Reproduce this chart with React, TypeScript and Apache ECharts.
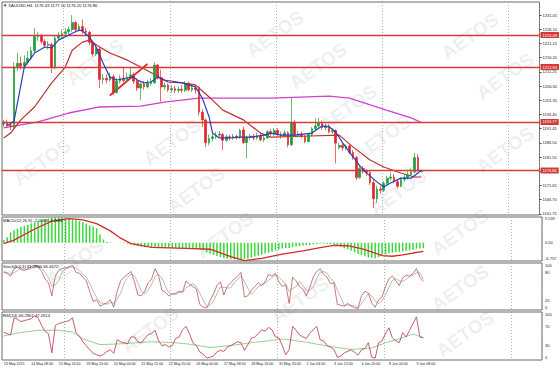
import React, { useEffect, useRef } from "react";
import * as echarts from "echarts";

const N_SLOTS = 157;
const LABEL_STEP = 8;
const dateLabels = ["13 May 2015", "14 May 08:00", "15 May 16:00", "18 May 20:00", "20 May 04:00", "21 May 12:00", "22 May 20:00", "26 May 00:00", "27 May 08:00", "28 May 16:00", "31 May 20:00", "2 Jun 04:00", "3 Jun 12:00", "4 Jun 20:00", "8 Jun 00:00", "9 Jun 08:00"];
const weekStarts = [18, 49, 80, 111, 148];

const priceTicks = [1231.05, 1226.10, 1221.15, 1216.20, 1211.25, 1206.30, 1201.35, 1196.40, 1191.45, 1186.50, 1181.55, 1176.60, 1171.65, 1166.70, 1161.75];
const hLines = [1224.08, 1212.93, 1193.77, 1176.86];

// [open, close, low, high]
const ohlc = [
  [1193.0,1193.8,1192.0,1194.5],[1193.8,1192.6,1191.8,1194.6],[1192.6,1192.2,1191.0,1193.6],[1192.2,1213.0,1191.5,1214.5],
  [1213.0,1214.2,1211.5,1217.8],[1214.2,1213.2,1212.0,1216.5],[1213.2,1214.6,1212.4,1217.0],[1214.6,1216.0,1213.8,1218.5],
  [1216.0,1218.6,1215.2,1220.0],[1218.6,1223.5,1218.0,1226.5],[1223.5,1223.9,1222.0,1225.0],[1223.9,1221.8,1221.0,1224.5],
  [1221.8,1220.5,1219.6,1222.6],[1220.5,1220.8,1219.0,1222.0],[1220.8,1212.8,1210.8,1221.4],[1212.8,1223.0,1212.0,1224.0],
  [1223.0,1223.8,1222.2,1225.0],[1223.8,1224.6,1222.8,1226.0],[1224.6,1225.2,1223.5,1226.5],[1225.2,1226.0,1224.2,1227.0],
  [1226.0,1228.4,1225.2,1231.0],[1228.4,1226.0,1225.0,1229.0],[1226.0,1227.0,1225.2,1228.0],[1227.0,1225.5,1224.5,1229.5],
  [1225.5,1225.0,1224.0,1226.5],[1225.0,1221.5,1220.5,1225.6],[1221.5,1217.5,1216.5,1222.0],[1217.5,1219.2,1216.8,1220.2],
  [1219.2,1208.6,1205.6,1220.0],[1208.6,1209.0,1207.0,1210.5],[1209.0,1208.4,1207.2,1210.4],[1208.4,1209.6,1207.8,1211.0],
  [1209.6,1204.0,1203.2,1210.4],[1204.0,1208.0,1203.8,1209.0],[1208.0,1209.0,1207.2,1210.2],[1209.0,1208.2,1207.5,1212.6],
  [1208.2,1209.4,1207.6,1211.0],[1209.4,1210.2,1208.6,1212.8],[1210.2,1208.0,1207.0,1211.0],[1208.0,1205.6,1204.6,1209.0],
  [1205.6,1207.0,1201.5,1207.6],[1207.0,1206.0,1205.0,1208.0],[1206.0,1207.2,1205.4,1208.5],[1207.2,1207.6,1206.4,1209.0],
  [1207.4,1213.6,1207.0,1214.6],[1213.6,1209.2,1208.6,1214.0],[1209.2,1206.0,1200.8,1212.0],[1206.0,1206.6,1205.0,1207.6],
  [1206.6,1205.0,1204.2,1207.2],[1205.0,1205.4,1204.0,1206.6],[1205.4,1204.8,1203.8,1206.4],[1204.8,1205.2,1204.0,1206.2],
  [1205.2,1204.8,1203.8,1206.6],[1204.8,1207.2,1204.2,1208.0],[1207.2,1205.0,1204.4,1207.8],[1205.0,1205.6,1204.2,1206.4],
  [1205.6,1205.0,1203.6,1206.5],[1205.8,1197.2,1196.0,1206.2],[1197.2,1194.5,1192.0,1198.2],[1194.5,1186.5,1185.0,1195.0],
  [1186.5,1188.0,1185.6,1189.4],[1188.0,1188.6,1187.0,1189.6],[1188.6,1189.2,1187.8,1190.4],[1189.2,1189.6,1188.4,1190.6],
  [1189.4,1187.4,1184.0,1190.0],[1187.4,1188.6,1186.8,1189.4],[1188.6,1188.2,1187.4,1189.2],[1188.2,1188.8,1187.6,1189.6],
  [1188.8,1188.4,1187.6,1189.4],[1188.4,1190.8,1187.8,1191.4],[1191.0,1186.6,1186.0,1192.2],[1186.6,1188.4,1181.2,1189.0],
  [1188.4,1188.8,1187.6,1189.6],[1188.8,1188.2,1187.4,1189.6],[1188.2,1188.9,1187.6,1190.0],[1188.9,1187.6,1187.0,1189.8],
  [1187.6,1188.2,1186.8,1189.0],[1188.2,1190.4,1187.8,1191.0],[1190.4,1189.6,1189.0,1191.4],[1189.6,1190.8,1189.0,1191.6],
  [1190.8,1189.4,1188.8,1191.6],[1189.4,1189.0,1188.0,1190.4],[1189.0,1190.0,1188.6,1190.8],[1190.0,1185.8,1185.0,1190.6],
  [1185.8,1193.6,1185.4,1202.5],[1193.6,1189.2,1188.6,1194.4],[1189.2,1189.6,1188.4,1190.6],[1189.6,1188.8,1188.0,1190.4],
  [1188.8,1187.0,1186.4,1189.2],[1187.0,1189.4,1186.6,1190.0],[1189.4,1191.4,1188.8,1192.0],[1191.4,1192.4,1190.8,1195.0],
  [1192.4,1193.6,1191.6,1195.2],[1193.6,1191.8,1191.0,1194.2],[1191.8,1192.4,1191.0,1193.2],[1192.4,1190.4,1189.8,1193.0],
  [1190.4,1190.8,1189.6,1191.6],[1190.8,1186.4,1179.4,1191.2],[1185.0,1185.6,1184.2,1186.6],[1185.6,1184.8,1183.8,1186.2],
  [1184.8,1185.4,1184.0,1186.0],[1185.4,1183.2,1182.6,1186.0],[1183.2,1181.4,1180.6,1184.0],[1181.4,1174.4,1173.6,1182.0],
  [1174.4,1177.6,1174.0,1178.4],[1177.6,1176.6,1175.8,1178.4],[1176.6,1176.2,1175.0,1177.4],[1176.2,1172.6,1171.8,1177.0],
  [1172.6,1167.0,1163.8,1174.2],[1167.0,1170.4,1165.6,1171.6],[1170.4,1170.0,1168.8,1171.4],[1170.0,1172.4,1169.4,1173.2],
  [1172.4,1174.2,1171.8,1175.0],[1174.2,1174.6,1173.4,1176.2],[1174.6,1173.0,1172.4,1175.6],[1173.0,1171.4,1170.6,1174.0],
  [1171.4,1173.8,1171.0,1174.6],[1173.8,1174.4,1173.0,1175.6],[1174.4,1175.4,1173.8,1176.6],[1175.4,1176.4,1174.8,1177.6],
  [1176.4,1181.4,1176.0,1183.0],[1181.4,1177.0,1176.4,1182.6],[1176.43,1176.86,1176.20,1177.10],
];

// moving averages: [bar index, value]
const maFast = [[1,1192.5],[3,1194],[6,1212.9],[9,1217.8],[12,1219.9],[14,1219.6],[16,1222.3],[19,1224.1],[22,1225.8],[23,1225.5],[25,1223.4],[27,1219.9],[29,1214.3],[31,1209.4],[33,1208.4],[36,1209.1],[38,1209.4],[39,1208.4],[41,1207.4],[43,1207.7],[45,1209.4],[48,1207.7],[52,1207.4],[56,1206.0],[58,1202.1],[60,1195.5],[61,1189.9],[63,1188.2],[66,1188.2],[69,1188.5],[72,1188.5],[76,1189.2],[78,1189.9],[81,1189.2],[85,1189.2],[90,1189.9],[93,1192.4],[95,1192.1],[97,1190.3],[99,1186.5],[102,1181.6],[105,1177.0],[109,1172.9],[111,1171.1],[113,1172.5],[116,1174.2],[119,1174.2],[121,1176.0],[122,1177.0]];
const maMid = [[0,1188.2],[2,1189.9],[5,1194.5],[9,1199.0],[14,1207.4],[18,1212.9],[20,1218.8],[23,1221.6],[25,1222.3],[28,1219.9],[31,1217.8],[36,1215.4],[40,1212.9],[47,1208.4],[56,1206.7],[60,1202.5],[64,1197.9],[70,1194.5],[75,1189.9],[78,1188.5],[87,1188.8],[98,1189.2],[102,1185.1],[107,1180.5],[111,1178.1],[116,1176.0],[120,1174.6],[122,1174.6]];
const maSlow = [[0,1191.7],[10,1193.8],[19,1196.9],[28,1199.0],[40,1199.3],[47,1200.7],[57,1202.1],[78,1202.1],[95,1202.8],[101,1202.1],[112,1197.8],[119,1195.2],[122,1193.6]];
const trendLine = [[31,1203.0],[42,1214.0]];

const macdMain = [1.0,2.0,3.9,4.6,5.3,5.9,6.3,6.7,7.1,7.6,8.0,8.5,8.8,9.0,9.2,9.4,9.5,9.5,9.3,9.0,8.6,8.3,8.0,7.7,7.1,6.4,5.9,5.4,3.1,1.2,0.4,0.2,0.0,-0.1,-0.1,-0.2,-0.3,-0.6,-1.0,-1.2,-1.4,-1.5,-1.6,-1.7,-1.6,-1.7,-1.8,-1.9,-1.9,-2.0,-2.0,-2.0,-2.0,-1.9,-2.0,-2.0,-2.1,-2.4,-2.9,-3.6,-4.0,-4.5,-4.9,-5.3,-5.6,-5.9,-6.1,-6.2,-6.2,-6.1,-6.0,-5.8,-5.5,-5.1,-4.8,-4.4,-4.0,-3.7,-3.3,-2.9,-2.5,-2.1,-1.9,-1.9,-1.5,-1.3,-1.2,-1.0,-0.9,-0.8,-0.6,-0.4,-0.3,-0.3,-0.4,-0.5,-0.7,-1.2,-1.6,-2.0,-2.4,-3.0,-3.6,-4.2,-4.6,-5.0,-5.4,-5.6,-5.7,-5.3,-4.7,-4.3,-4.0,-3.7,-3.5,-3.4,-3.2,-3.0,-2.8,-2.6,-2.2,-2.1,-2.0];
const macdSignal = [[0,-0.3],[3,1.0],[9,5.1],[14,8.0],[19,8.9],[23,8.5],[27,7.1],[31,4.4],[34,1.7],[37,-0.3],[43,-1.7],[53,-2.1],[60,-2.4],[66,-5.1],[70,-6.6],[75,-5.8],[81,-4.2],[87,-3.0],[92,-1.8],[96,-1.0],[100,-1.1],[104,-2.2],[108,-3.8],[110,-4.8],[113,-5.0],[116,-4.5],[119,-3.8],[122,-3.2]];

const stochK = [80,78,72,88,92,86,84,88,92,95,93,82,66,58,30,72,84,88,90,92,95,80,78,70,62,40,18,22,8,12,15,22,6,40,62,70,76,82,60,32,30,40,58,66,88,74,42,38,30,34,36,40,38,62,55,50,45,12,6,4,20,34,52,60,32,50,58,66,72,80,28,30,42,50,58,52,60,76,72,78,60,50,54,14,70,62,50,44,30,48,70,82,88,76,70,56,58,12,10,8,14,8,5,3,30,40,36,15,6,22,28,50,66,72,62,52,68,74,72,78,88,70,61];
const stochD = [82,80,77,79,84,89,87,86,88,92,93,90,80,69,51,53,62,81,87,90,92,89,84,76,70,57,40,27,16,14,12,16,14,23,36,57,69,76,73,58,41,34,43,55,71,76,68,51,37,34,33,37,38,47,52,56,50,36,21,7,10,19,35,49,48,47,47,58,65,73,60,46,33,41,50,53,57,63,69,75,70,63,55,39,46,49,61,52,41,41,49,67,80,82,78,67,61,42,27,10,11,10,9,5,13,24,35,30,19,14,19,33,48,63,67,62,61,65,71,75,79,79,66];

const rsiMain = [58,55,52,88,85,80,82,84,86,92,88,72,60,55,15,72,76,78,80,82,88,57,50,38,30,21,14,11,8,12,18,21,14,42,38,36,34,48,48,38,36,45,53,55,62,40,30,32,27,30,45,48,63,70,55,36,30,17,12,4,6,8,17,20,18,27,30,34,38,36,20,32,45,48,55,63,60,68,63,48,46,30,11,22,70,62,52,48,45,56,63,70,42,40,30,27,22,6,8,15,18,21,16,10,21,24,36,6,4,36,40,55,67,46,40,36,57,48,62,76,90,48,46];
const rsiSignal = [[0,50],[4,56],[10,62],[16,62],[20,58],[23,44],[28,32],[35,34],[43,38],[50,36],[54,33],[60,26],[67,31],[72,36],[77,40],[81,44],[85,40],[88,37],[95,28],[101,22],[107,25],[111,36],[115,44],[119,54],[122,47]];

const macdLabels = ["9.539", "0.00", "-6.757"];
const stochLabels = ["100", "80", "20", "0"];
const rsiLabels = ["100", "70", "30", "0"];

const watermarks = [[95,62],[275,34],[318,66],[348,108],[470,36],[505,76],[505,150],[172,142],[196,190],[382,138],[398,192],[42,162],[75,262],[225,235],[460,232],[460,288],[465,334],[300,300],[150,330]];

const FONT = "'Liberation Sans', Arial, sans-serif";
const BULL = "#1f9e3a";
const BEAR = "#e2262b";

export default function App() {
  const ref = useRef<HTMLDivElement>(null);
  useEffect(() => {
    if (!ref.current) return;
    const chart = echarts.init(ref.current, undefined, { renderer: "svg" });
    const categories = Array.from({ length: N_SLOTS }, (_, i) => String(i));
    const grids = [
      { top: 2, height: 213 },
      { top: 217, height: 44 },
      { top: 263, height: 47 },
      { top: 312, height: 48 },
    ].map((g) => ({ left: 2, right: 18, ...g, show: true, borderColor: "#6a6a6a", borderWidth: 1, backgroundColor: "transparent" }));

    const xAxes = grids.map((_, gi) => ({
      type: "category",
      gridIndex: gi,
      data: categories,
      boundaryGap: true,
      axisLine: { show: false },
      axisTick: { show: false },
      axisLabel: gi === 3
        ? {
            show: true,
            interval: (i: number) => i % LABEL_STEP === 0 && i / LABEL_STEP < dateLabels.length,
            formatter: (_v: string, i: number) => dateLabels[i / LABEL_STEP] ?? "",
            align: "left",
            fontSize: 3.6,
            color: "#222",
            margin: 2,
            fontFamily: FONT,
          }
        : { show: false },
      splitLine: {
        show: true,
        interval: (i: number) => weekStarts.includes(i),
        lineStyle: { color: "#9a9a9a", type: [1, 2], width: 0.8 },
      },
    }));

    const labelBase = { fontSize: 4, color: "#222", margin: 3, fontFamily: FONT };
    const yAxes = [
      {
        type: "value", gridIndex: 0, position: "right", min: 1161.36, max: 1235.58,
        splitLine: { show: false }, axisLine: { show: false },
        axisTick: { show: true, length: 2, customValues: priceTicks, lineStyle: { color: "#444" } },
        axisLabel: { ...labelBase, customValues: priceTicks, formatter: (v: number) => v.toFixed(2) },
      },
      {
        type: "value", gridIndex: 1, position: "right", min: -6.757, max: 9.539,
        splitLine: { show: false }, axisLine: { show: false },
        axisTick: { show: false },
        axisLabel: { ...labelBase, customValues: [8.9, 0, -5.9], formatter: (v: number) => (v > 1 ? macdLabels[0] : v < -1 ? macdLabels[2] : macdLabels[1]) },
      },
      {
        type: "value", gridIndex: 2, position: "right", min: 0, max: 100,
        splitLine: { show: false }, axisLine: { show: false },
        axisTick: { show: false },
        axisLabel: { ...labelBase, customValues: [94, 80, 20, 6], formatter: (v: number) => (v > 90 ? stochLabels[0] : v > 50 ? stochLabels[1] : v > 10 ? stochLabels[2] : stochLabels[3]) },
      },
      {
        type: "value", gridIndex: 3, position: "right", min: 0, max: 100,
        splitLine: { show: false }, axisLine: { show: false },
        axisTick: { show: false },
        axisLabel: { ...labelBase, customValues: [94, 70, 30, 6], formatter: (v: number) => (v > 90 ? rsiLabels[0] : v > 50 ? rsiLabels[1] : v > 10 ? rsiLabels[2] : rsiLabels[3]) },
      },
    ];

    const lineBase = { type: "line", symbol: "none", silent: true, z: 3 };

    const wm = watermarks.map(([x, y]) => ({
      type: "text",
      x, y,
      rotation: 0.62,
      z: -10,
      silent: true,
      style: { text: "AETOS", fontSize: 19, fontWeight: "bold", fontFamily: FONT, fill: "rgba(170,170,170,0.2)", align: "center", verticalAlign: "middle" },
    }));
    const titleStyle = { fontSize: 4.2, fill: "#111", fontFamily: FONT };
    const titles = [
      { type: "text", x: 3, y: 3, z: 10, style: { ...titleStyle, text: "▼ XAUUSD,H4  1176.43 1177.10 1176.20 1176.86" } },
      { type: "text", x: 3, y: 218, z: 10, style: { ...titleStyle, text: "MACD(12,26,9) -2.0058 -3.2086" } },
      { type: "text", x: 3, y: 264, z: 10, style: { ...titleStyle, text: "Stoch(5,3,3) 61.2860 66.4672" } },
      { type: "text", x: 3, y: 313, z: 10, style: { ...titleStyle, text: "RSI(14) 46.2901 47.2614" } },
    ];

    chart.setOption({
      animation: false,
      backgroundColor: "#ffffff",
      textStyle: { fontFamily: FONT },
      grid: grids,
      xAxis: xAxes,
      yAxis: yAxes,
      graphic: [...wm, ...titles],
      series: [
        {
          type: "candlestick", xAxisIndex: 0, yAxisIndex: 0, data: ohlc, barWidth: 2.2, z: 4,
          itemStyle: { color: BULL, color0: BEAR, borderColor: BULL, borderColor0: BEAR, borderWidth: 0.7 },
          markLine: {
            silent: true, symbol: "none", precision: 2,
            data: hLines.map((v) => ({ yAxis: v })),
            lineStyle: { color: "#d43a3a", width: 1.4, type: "solid" },
            label: { show: true, position: "end", formatter: (p: any) => Number(p.value).toFixed(2), color: "#fff", backgroundColor: "#d43a3a", fontSize: 4, padding: [1, 2], distance: 1, fontFamily: FONT },
          },
        },
        { ...lineBase, xAxisIndex: 0, yAxisIndex: 0, data: maSlow, lineStyle: { color: "#cc44cc", width: 1.3 } },
        { ...lineBase, xAxisIndex: 0, yAxisIndex: 0, data: maMid, lineStyle: { color: "#b83232", width: 1.2 } },
        { ...lineBase, xAxisIndex: 0, yAxisIndex: 0, data: maFast, lineStyle: { color: "#2c3fb8", width: 1.2 }, z: 5 },
        { ...lineBase, xAxisIndex: 0, yAxisIndex: 0, data: trendLine, lineStyle: { color: "#e02424", width: 1.8 } },
        { type: "bar", xAxisIndex: 1, yAxisIndex: 1, data: macdMain, barWidth: 1.5, silent: true, itemStyle: { color: "#3ad83a" } },
        { ...lineBase, xAxisIndex: 1, yAxisIndex: 1, data: macdSignal, lineStyle: { color: "#d42a2a", width: 1.3 } },
        { ...lineBase, xAxisIndex: 2, yAxisIndex: 2, data: stochD, lineStyle: { color: "#a8a8a8", width: 0.8 } },
        { ...lineBase, xAxisIndex: 2, yAxisIndex: 2, data: stochK, lineStyle: { color: "#b85a50", width: 0.8 } },
        { ...lineBase, xAxisIndex: 3, yAxisIndex: 3, data: rsiSignal, lineStyle: { color: "#8cc88c", width: 0.9 } },
        { ...lineBase, xAxisIndex: 3, yAxisIndex: 3, data: rsiMain, lineStyle: { color: "#c04a5e", width: 0.9 } },
      ],
    });
    return () => chart.dispose();
  }, []);
  return <div ref={ref} style={{ width: 560, height: 369, position: "absolute", left: 0, top: 0 }} />;
}
